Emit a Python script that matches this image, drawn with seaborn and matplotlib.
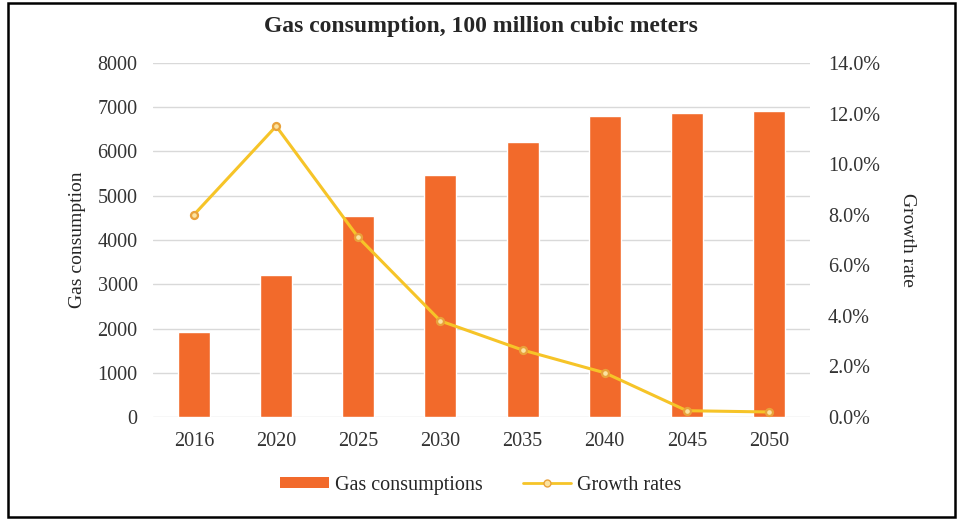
import matplotlib
matplotlib.use('Agg')
import matplotlib.pyplot as plt
import seaborn as sns
import pandas as pd
from matplotlib.patches import Patch, Rectangle
from matplotlib.lines import Line2D
from matplotlib.ticker import PercentFormatter

# Data
years = ['2016', '2020', '2025', '2030', '2035', '2040', '2045', '2050']
consumption = [1930, 3210, 4540, 5470, 6220, 6790, 6860, 6910]
growth = [8.0, 11.5, 7.1, 3.8, 2.65, 1.75, 0.25, 0.2]

BAR_COLOR = '#F26A2B'
LINE_COLOR = '#F6C428'

sns.set_theme(style='white')
plt.rcParams['font.family'] = ['Liberation Serif', 'DejaVu Serif']

df = pd.DataFrame({'year': years, 'consumption': consumption, 'growth': growth})

fig = plt.figure(figsize=(9.62, 5.2), dpi=100)
ax = fig.add_axes([0.159, 0.198, 0.683, 0.681])

sns.barplot(data=df, x='year', y='consumption', color=BAR_COLOR, saturation=1,
            width=0.39, ax=ax, zorder=2)
ax.set_ylim(0, 8000)
ax.set_xlim(-0.5, 7.5)
ax.set_yticks(range(0, 8001, 1000))
ax.yaxis.grid(True, color='#D9D9D9', linewidth=1)
ax.set_axisbelow(True)
ax.set_xlabel('')
ax.set_ylabel('Gas consumption', fontsize=14, labelpad=8)
ax.tick_params(axis='y', labelsize=14.5, length=0, colors='#333333', pad=11)
ax.tick_params(axis='x', labelsize=14.5, length=0, colors='#333333', pad=11)

ax2 = ax.twinx()
sns.pointplot(data=df, x='year', y='growth', color=LINE_COLOR, ax=ax2,
              markers='o', markersize=5, linewidth=2.2,
              markerfacecolor='#FBE3A0', markeredgecolor='#E9A23B')
ax2.set_ylim(0, 14)
ax2.set_xlim(-0.5, 7.5)
ax2.set_yticks(range(0, 15, 2))
ax2.yaxis.set_major_formatter(PercentFormatter(decimals=1))
ax2.set_ylabel('Growth rate', fontsize=14, rotation=-90, labelpad=26)
ax2.tick_params(axis='y', labelsize=14.5, length=0, colors='#333333', pad=13)
ax2.grid(False)

for a in (ax, ax2):
    for s in a.spines.values():
        s.set_visible(False)

fig.suptitle('Gas consumption, 100 million cubic meters', fontsize=17,
             fontweight='bold', y=0.97)

handles = [Patch(facecolor=BAR_COLOR, edgecolor='none', label='Gas consumptions'),
           Line2D([0], [0], color=LINE_COLOR, linewidth=2, marker='o', markersize=5,
                  markerfacecolor='#FBE3A0', markeredgecolor='#E9A23B',
                  label='Growth rates')]
fig.legend(handles=handles, loc='center', bbox_to_anchor=(0.5, 0.067), ncol=2,
           frameon=False, fontsize=14.5, handlelength=2.4, handleheight=0.5,
           columnspacing=2.0, handletextpad=0.3)

# outer frame
fig.patches.append(Rectangle((0.008, 0.006), 0.985, 0.988, transform=fig.transFigure,
                             fill=False, edgecolor='black', linewidth=1.8))

fig.savefig('out.png', dpi=100)
